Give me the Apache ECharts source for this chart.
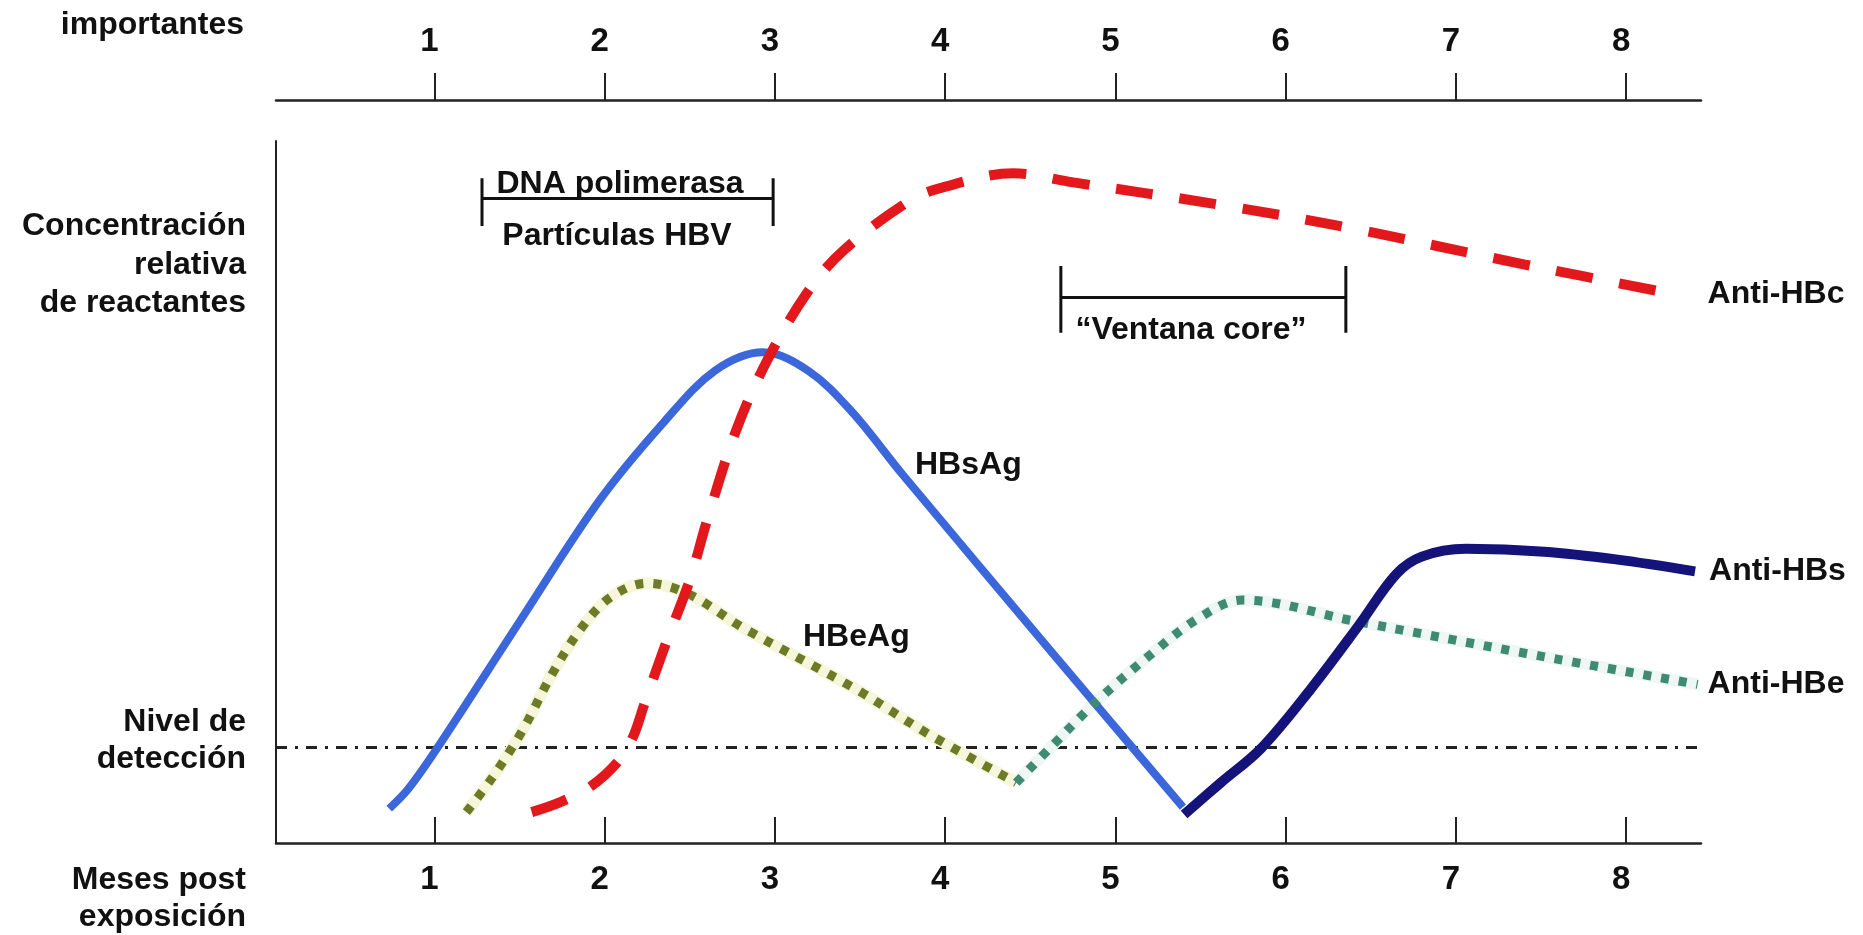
<!DOCTYPE html>
<html>
<head>
<meta charset="utf-8">
<script src="https://cdn.jsdelivr.net/npm/echarts@6/dist/echarts.min.js"></script>
<style>
html,body{margin:0;padding:0;background:#fff;}
#chart{width:1863px;height:935px;}
</style>
</head>
<body>
<div id="chart"></div>
<script>
// ---- Data (months post exposure, relative concentration 0-100) ----
const tickValues = [1, 2, 3, 4, 5, 6, 7, 8];
const tickLabels = ['1', '2', '3', '4', '5', '6', '7', '8'];
const monthRange = [0.07, 8.44];
const detectionLevel = 13.6;

const hbsag = [[0.735,4.9],[0.85,7.8],[1.03,14.0],[1.5,31.5],[1.97,48.8],[2.35,60.0],[2.65,67.3],[2.93,69.9],[3.2,67.2],[3.45,61.5],[3.75,52.5],[4.657,26.3],[5.397,5.1]];
const hbeag = [[1.188,4.4],[1.34,9.3],[1.517,16.0],[1.69,24.0],[1.866,30.7],[2.04,35.1],[2.25,37.0],[2.49,35.5],[2.81,30.7],[3.47,22.0],[3.89,15.7],[4.418,8.6]];
const antiHBc = [[1.572,4.4],[1.747,5.9],[1.921,8.1],[2.075,11.5],[2.165,15.0],[2.235,19.9],[2.361,28.5],[2.501,37.5],[2.606,46.3],[2.773,58.8],[2.954,68.7],[3.198,78.7],[3.408,84.5],[3.792,91.5],[3.987,93.4],[4.40,95.4],[4.754,94.1],[5.592,91.0],[6.359,87.7],[7.406,82.4],[8.279,78.2]];
const antiHBe = [[4.418,8.6],[4.615,13.5],[4.887,20.1],[5.215,27.0],[5.494,32.1],[5.745,34.6],[6.408,31.6],[7.413,27.0],[8.42,22.6]];
const antiHBs = [[5.404,4.05],[5.62,8.6],[5.857,13.5],[6.15,22.0],[6.43,31.0],[6.65,38.3],[6.8,40.8],[7.06,41.9],[7.52,41.5],[7.94,40.4],[8.405,38.7]];

// annotation brackets: [start month, end month, line level, top of ends, bottom of ends]
const dnaBracket = [1.28, 2.99, 91.8, 94.7, 87.9];
const ventanaBracket = [4.68, 6.354, 77.7, 82.2, 72.7];

// ---- Chart ----
const FONT = '"Liberation Sans", Arial, Helvetica, sans-serif';
const txt = (text, x, y, align) => ({
  type: 'text', x: x, y: y, silent: true,
  style: { text: text, fill: '#111', fontSize: 32, fontWeight: 'bold', fontFamily: FONT,
           align: align || 'right', verticalAlign: 'middle' }
});
function bracketPath(b) {
  return [[b[0], b[3]], [b[0], b[4]], [b[0], b[2]], [b[1], b[2]], [b[1], b[3]], [b[1], b[4]]];
}
const lineSeries = (name, data, style, extra) => Object.assign({
  type: 'line', name: name, data: data, showSymbol: false, symbol: 'none',
  smooth: 0.35, silent: true, animation: false, lineStyle: style
}, extra || {});
const endLbl = (text, dist) => ({
  show: true, formatter: text, distance: dist, color: '#111',
  fontSize: 32, fontWeight: 'bold', fontFamily: FONT
});

const chart = echarts.init(document.getElementById('chart'), null, { renderer: 'canvas' });
const axisCommon = {
  type: 'value', min: monthRange[0], max: monthRange[1],
  splitLine: { show: false },
  axisLine: { show: true, lineStyle: { color: '#222', width: 2.5 } }
};
const tickFmt = v => tickLabels[tickValues.indexOf(Math.round(v))];
chart.setOption({
  animation: false,
  backgroundColor: '#ffffff',
  grid: { left: 276, right: 162, top: 141, bottom: 92, containLabel: false },
  xAxis: [
    Object.assign({}, axisCommon, {
      position: 'bottom',
      axisTick: { show: true, inside: true, length: 26, lineStyle: { color: '#222', width: 2 }, customValues: tickValues },
      axisLabel: { show: true, customValues: tickValues, formatter: tickFmt, padding: [0, 10, 0, 0],
                   margin: 20, color: '#111', fontSize: 33, fontWeight: 'bold', fontFamily: FONT }
    }),
    Object.assign({}, axisCommon, {
      position: 'top', offset: 41,
      axisTick: { show: true, inside: false, length: 27, lineStyle: { color: '#222', width: 2 }, customValues: tickValues },
      axisLabel: { show: true, customValues: tickValues, formatter: tickFmt, padding: [0, 10, 0, 0],
                   margin: 42, color: '#111', fontSize: 33, fontWeight: 'bold', fontFamily: FONT }
    })
  ],
  yAxis: {
    type: 'value', min: 0, max: 100,
    axisLine: { show: true, lineStyle: { color: '#222', width: 2 } },
    axisTick: { show: false }, axisLabel: { show: false }, splitLine: { show: false }
  },
  series: [
    lineSeries('detección', [[monthRange[0], detectionLevel], [monthRange[1], detectionLevel]],
      { color: '#222', width: 3, type: [11, 8, 3, 8] }, { smooth: false }),
    lineSeries('dnaBracket', bracketPath(dnaBracket), { color: '#111', width: 3 }, { smooth: false }),
    lineSeries('ventanaBracket', bracketPath(ventanaBracket), { color: '#111', width: 3 }, { smooth: false }),
    lineSeries('HBeAg halo', hbeag, { color: '#f6f6da', width: 12 }),
    lineSeries('Anti-HBe halo', antiHBe, { color: '#eef7f3', width: 12 }),
    lineSeries('HBsAg', hbsag, { color: '#3b67db', width: 8 }),
    lineSeries('HBeAg', hbeag, { color: '#6d7a28', width: 9, type: [8, 10], cap: 'butt' }),
    lineSeries('Anti-HBe', antiHBe, { color: '#3f8a72', width: 9, type: [8, 10], cap: 'butt' },
      { endLabel: endLbl('Anti-HBe', 10) }),
    lineSeries('Anti-HBs', antiHBs, { color: '#13137a', width: 10 },
      { endLabel: endLbl('Anti-HBs', 14) }),
    lineSeries('Anti-HBc', antiHBc, { color: '#e2181c', width: 10, type: [37, 27], cap: 'butt' },
      { endLabel: endLbl('Anti-HBc', 34) })
  ],
  graphic: [
    txt('importantes', 244, 25),
    txt('Concentración', 246, 226),
    txt('relativa', 246, 265),
    txt('de reactantes', 246, 303),
    txt('Nivel de', 246, 722),
    txt('detección', 246, 759),
    txt('Meses post', 246, 880),
    txt('exposición', 246, 917),
    txt('DNA polimerasa', 620, 184, 'center'),
    txt('Partículas HBV', 617, 236, 'center'),
    txt('\u201CVentana core\u201D', 1191, 330, 'center'),
    txt('HBsAg', 915, 465, 'left'),
    txt('HBeAg', 803, 637, 'left')
  ]
});
</script>
</body>
</html>
